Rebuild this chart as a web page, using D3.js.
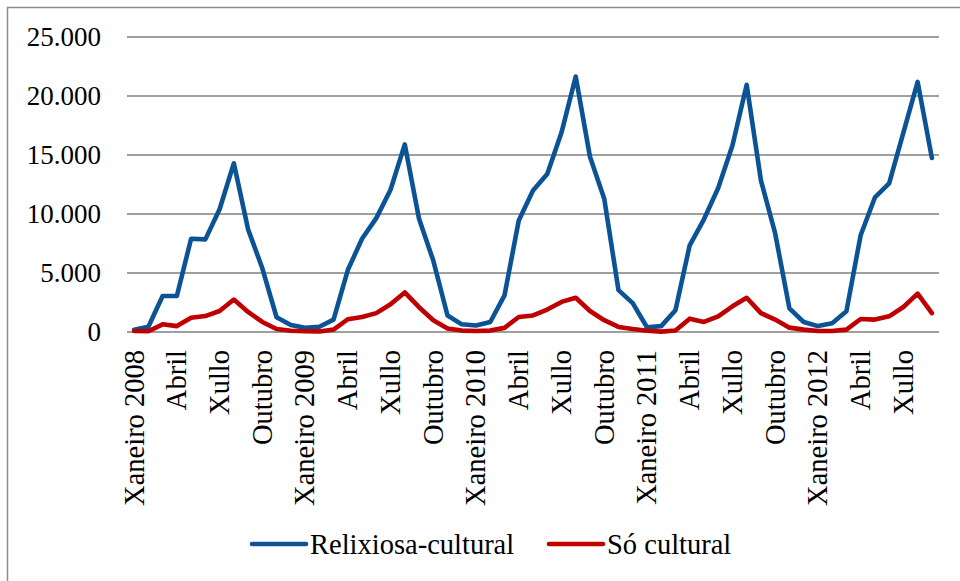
<!DOCTYPE html>
<html>
<head>
<meta charset="utf-8">
<script src="https://cdn.jsdelivr.net/npm/d3@7"></script>
<style>
  body { margin: 0; background: #fff; }
  svg { display: block; }
</style>
</head>
<body>
<script>
// months Xaneiro 2008 .. Setembro 2012
var monthNames = ["Xaneiro","Febreiro","Marzo","Abril","Maio","Xuño","Xullo","Agosto","Setembro","Outubro","Novembro","Decembro"];
var years = [2008, 2009, 2010, 2011, 2012];

var relixiosa = [200, 450, 3050, 3050, 7900, 7850, 10400, 14300, 8700, 5400, 1250, 600,
                 350, 450, 1050, 5250, 7900, 9650, 12050, 15900, 9600, 6050, 1400, 650,
                 550, 850, 3100, 9450, 12000, 13400, 16900, 21650, 14850, 11300, 3550, 2450,
                 400, 500, 1850, 7350, 9550, 12200, 15800, 20950, 12850, 8350, 2000, 850,
                 500, 750, 1750, 8200, 11400, 12600, 16900, 21200, 14750];
var soCultural = [80, 60, 650, 500, 1200, 1350, 1780, 2750, 1700, 850, 250, 100,
                  60, 50, 200, 1080, 1270, 1600, 2350, 3350, 2100, 1000, 300, 120,
                  80, 120, 350, 1270, 1400, 1900, 2550, 2900, 1780, 1000, 430, 250,
                  100, 30, 130, 1130, 850, 1330, 2180, 2900, 1600, 1050, 370, 200,
                  80, 80, 200, 1100, 1050, 1330, 2120, 3250, 1600];
var yTicks = [0, 5000, 10000, 15000, 20000, 25000];
var seriesNames = ["Relixiosa-cultural", "Só cultural"];
var seriesColors = ["#0b5394", "#c00000"];

var categories = [];
years.forEach(function(y) {
  monthNames.forEach(function(m, k) { categories.push({month: k, name: m, year: y}); });
});
categories = categories.slice(0, relixiosa.length);

var width = 960, height = 581;
var font = "'Liberation Serif', 'Times New Roman', serif";

var svg = d3.select("body")
            .append("svg")
            .attr("width", width)
            .attr("height", height);

// outer frame
svg.append("rect")
    .attr("x", 7.5).attr("y", 7.5)
    .attr("width", width).attr("height", height)
    .attr("fill", "none")
    .attr("stroke", "#8c8c8c")
    .attr("stroke-width", 1.5);

var x = d3.scalePoint()
    .domain(d3.range(categories.length))
    .range([127, 939])
    .padding(0.5);

var y = d3.scaleLinear().domain([0, 25000]).range([332, 37]);

// gridlines
svg.append("g")
    .selectAll("line")
    .data(yTicks)
    .enter().append("line")
    .attr("x1", 127).attr("x2", 939)
    .attr("y1", function(d) { return y(d); })
    .attr("y2", function(d) { return y(d); })
    .attr("stroke", "#7f7f7f")
    .attr("stroke-width", 1.6);

// y labels
var fmt = function(d) { return d3.format(",")(d).replace(/,/g, "."); };
svg.append("g")
    .selectAll("text")
    .data(yTicks)
    .enter().append("text")
    .attr("x", 101)
    .attr("y", function(d) { return y(d); })
    .attr("dy", "0.34em")
    .attr("text-anchor", "end")
    .attr("font-family", font)
    .attr("font-size", "27px")
    .attr("fill", "#000")
    .text(fmt);

// x labels every 3 months
var tickIdx = d3.range(categories.length).filter(function(i) { return categories[i].month % 3 == 0; });
svg.append("g")
    .selectAll("text")
    .data(tickIdx)
    .enter().append("text")
    .attr("transform", function(i) { return "translate(" + x(i) + ",350) rotate(-90)"; })
    .attr("dy", "0.33em")
    .attr("text-anchor", "end")
    .attr("font-family", font)
    .attr("font-size", "28.5px")
    .attr("fill", "#000")
    .text(function(i) {
      var c = categories[i];
      return c.month == 0 ? c.name + " " + c.year : c.name;
    });

var line = d3.line()
    .x(function(d, i) { return x(i); })
    .y(function(d) { return y(d); });

[relixiosa, soCultural].forEach(function(s, k) {
  svg.append("path")
      .datum(s)
      .attr("d", line)
      .attr("fill", "none")
      .attr("stroke", seriesColors[k])
      .attr("stroke-width", 4.6)
      .attr("stroke-linejoin", "round")
      .attr("stroke-linecap", "round");
});

// legend
var legendX = [252, 549];
var leg = svg.append("g");
seriesNames.forEach(function(n, k) {
  leg.append("line")
      .attr("x1", legendX[k]).attr("x2", legendX[k] + 54)
      .attr("y1", 544).attr("y2", 544)
      .attr("stroke", seriesColors[k])
      .attr("stroke-width", 4.6)
      .attr("stroke-linecap", "round");
  leg.append("text")
      .attr("x", legendX[k] + 58)
      .attr("y", 554)
      .attr("font-family", font)
      .attr("font-size", "28.5px")
      .attr("fill", "#000")
      .text(n);
});
</script>
</body>
</html>
